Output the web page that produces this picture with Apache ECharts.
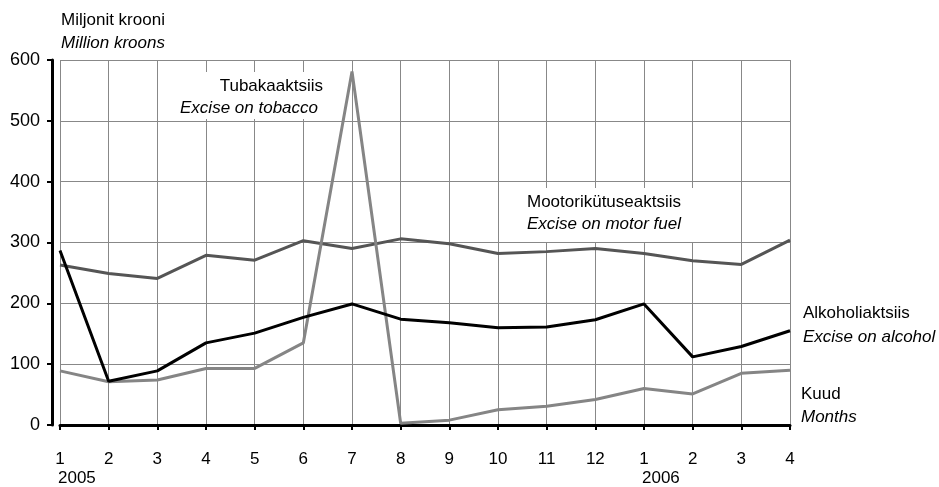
<!DOCTYPE html>
<html>
<head>
<meta charset="utf-8">
<script src="https://cdn.jsdelivr.net/npm/echarts@6.0.0/dist/echarts.min.js"></script>
<style>
  html, body { margin: 0; padding: 0; background: #fff; }
  #chart { width: 939px; height: 487px; }
</style>
</head>
<body>
<div id="chart"></div>
<script>
  // kuud / months
  var months = ['1', '2', '3', '4', '5', '6', '7', '8', '9', '10', '11', '12', '1', '2', '3', '4']
  var years = ['2005', '', '', '', '', '', '', '', '', '', '', '', '2006', '', '', '']
  var yTicks = [0, 100, 200, 300, 400, 500, 600]

  // Mootorikütuseaktsiis / Excise on motor fuel
  var motorFuel = [263, 249, 241, 279, 271, 303, 290, 306, 298, 282, 285, 290, 282, 270, 264, 304]
  // Tubakaaktsiis / Excise on tobacco
  var tobacco = [89, 71, 74, 93, 93, 135, 581, 3, 8, 25, 31, 42, 60, 51, 85, 90]
  // Alkoholiaktsiis / Excise on alcohol
  var alcohol = [287, 72, 89, 135, 151, 177, 199, 174, 168, 160, 161, 173, 199, 112, 129, 155]

  var font = '17px "Liberation Sans", Arial, sans-serif'
  var fontItalic = 'italic 17px "Liberation Sans", Arial, sans-serif'

  function label (txt, x, y, italic, align) {
    return {
      type: 'text',
      x: x,
      y: y,
      z: 5,
      style: {
        text: txt,
        font: italic ? fontItalic : font,
        fill: '#000',
        textAlign: align || 'left',
        textVerticalAlign: 'middle'
      }
    }
  }

  var chart = echarts.init(document.getElementById('chart'))
  var option = {
    backgroundColor: '#fff',
    animation: false,
    grid: { left: 60, right: 149, top: 60, bottom: 62 },
    textStyle: { fontFamily: '"Liberation Sans", Arial, sans-serif' },
    xAxis: [
      {
        type: 'category',
        data: months,
        boundaryGap: false,
        position: 'bottom',
        offset: 10,
        axisLine: { lineStyle: { color: '#000', width: 3 } },
        axisTick: { show: true, length: 5, lineStyle: { color: '#000', width: 2 } },
        axisLabel: { interval: 0, margin: 16, color: '#000', fontSize: 17 },
        splitLine: { show: true, interval: 0, lineStyle: { color: '#888', width: 1 } }
      },
      {
        type: 'category',
        data: years,
        boundaryGap: false,
        position: 'bottom',
        offset: 10,
        axisLine: { show: false },
        axisTick: { show: false },
        splitLine: { show: false },
        axisLabel: { interval: 0, margin: 35, color: '#000', fontSize: 17, align: 'left', padding: [0, 0, 0, -2] }
      }
    ],
    yAxis: {
      type: 'value',
      min: yTicks[0],
      max: yTicks[yTicks.length - 1],
      interval: 100,
      offset: 8,
      axisLine: { show: true, lineStyle: { color: '#000', width: 3 } },
      axisTick: { show: true, length: 5, lineStyle: { color: '#000', width: 2 } },
      axisLabel: { margin: 12, color: '#000', fontSize: 18 },
      splitLine: { show: true, lineStyle: { color: '#888', width: 1 } }
    },
    graphic: [
      label('Miljonit krooni', 61, 20, false),
      label('Million kroons', 61, 43, true),
      // label boxes hide the grid behind the text
      { type: 'rect', z: 1, shape: { x: 176, y: 72, width: 154, height: 47 }, style: { fill: '#fff' } },
      label('Tubakaaktsiis', 323, 86, false, 'right'),
      label('Excise on tobacco', 318, 108, true, 'right'),
      { type: 'rect', z: 1, shape: { x: 516, y: 188, width: 202, height: 54 }, style: { fill: '#fff' } },
      label('Mootorikütuseaktsiis', 527, 202, false),
      label('Excise on motor fuel', 527, 224, true),
      label('Alkoholiaktsiis', 803, 313, false),
      label('Excise on alcohol', 803, 337, true),
      label('Kuud', 801, 394, false),
      label('Months', 801, 417, true)
    ],
    series: [
      {
        name: 'Mootorikütuseaktsiis',
        type: 'line',
        data: motorFuel,
        symbol: 'none',
        z: 3,
        lineStyle: { color: '#555', width: 3 }
      },
      {
        name: 'Tubakaaktsiis',
        type: 'line',
        data: tobacco,
        symbol: 'none',
        z: 3,
        lineStyle: { color: '#858585', width: 3 }
      },
      {
        name: 'Alkoholiaktsiis',
        type: 'line',
        data: alcohol,
        symbol: 'none',
        z: 3,
        lineStyle: { color: '#000', width: 3 }
      }
    ]
  }
  chart.setOption(option)
</script>
</body>
</html>
